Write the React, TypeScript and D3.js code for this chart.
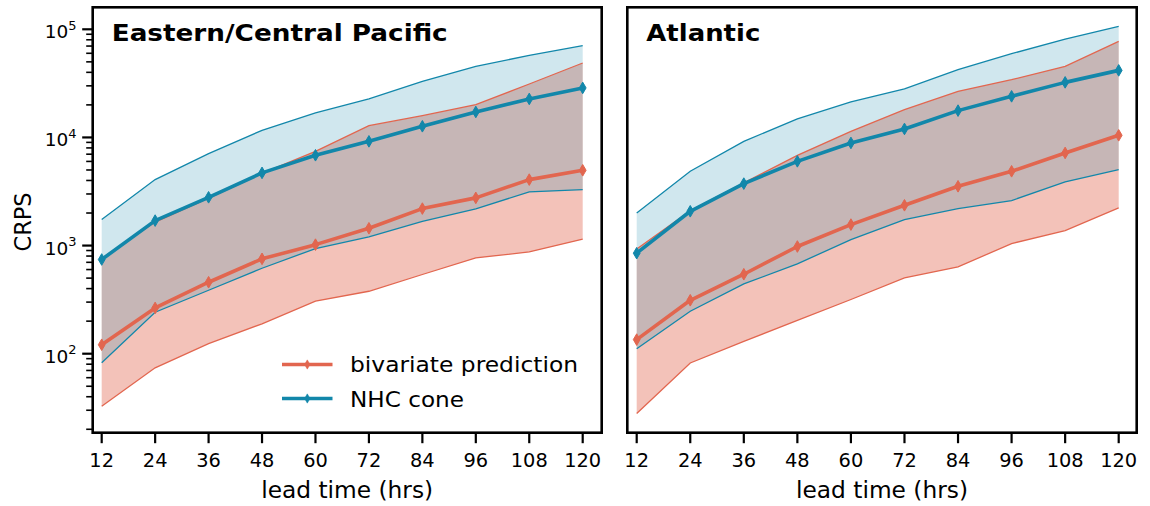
import React from "react";
import * as d3 from "d3";

const hours = [12, 24, 36, 48, 60, 72, 84, 96, 108, 120];
const hourLabels = ["12", "24", "36", "48", "60", "72", "84", "96", "108", "120"];

// Eastern/Central Pacific
const pacBivMean = [121, 265, 458, 754, 1020, 1445, 2198, 2760, 4074, 4966];
const pacBivLow = [32.7, 74, 124, 189, 306, 378, 540, 769, 874, 1145];
const pacBivHigh = [760, 1650, 2750, 4650, 7440, 12850, 15900, 20100, 31200, 48800];
const pacNhcMean = [743, 1702, 2794, 4700, 6840, 9200, 12680, 17200, 22700, 28700];
const pacNhcLow = [82.4, 242, 386, 617, 938, 1204, 1678, 2183, 3133, 3294];
const pacNhcHigh = [1740, 4074, 7080, 11640, 16830, 22700, 33000, 45400, 57400, 70500];

// Atlantic
const atlBivMean = [135, 312, 543, 980, 1563, 2357, 3532, 4862, 7190, 10460];
const atlBivLow = [28, 82, 130, 203, 317, 503, 635, 1043, 1376, 2230];
const atlBivHigh = [930, 2100, 3800, 6830, 11390, 18070, 26700, 34200, 45400, 77300];
const atlNhcMean = [850, 2075, 3741, 6012, 8892, 11980, 17700, 23990, 32300, 41700];
const atlNhcLow = [111, 247, 442, 677, 1136, 1740, 2198, 2606, 3877, 5040];
const atlNhcHigh = [2005, 4862, 9200, 14830, 21280, 28060, 42350, 59500, 81300, 106400];

const yMajor = [100, 1000, 10000, 100000];
const yMajorExp = ["2", "3", "4", "5"];

const RED = "#e2664f";
const BLUE = "#1287aa";
const FONT = "'DejaVu Sans', sans-serif";

const PLOT_TOP = 7.3;
const PLOT_BOTTOM = 432.7;

const yScale = d3.scaleLog().domain([100, 100000]).range([353.7, 29.3]);
const yDomainLow = yScale.invert(PLOT_BOTTOM);
const yDomainHigh = yScale.invert(PLOT_TOP);

function minorTicks(): number[] {
  const out: number[] = [];
  for (let e = 1; e <= 5; e++) {
    for (let m = 2; m <= 9; m++) {
      const v = m * Math.pow(10, e);
      if (v >= yDomainLow && v <= yDomainHigh) out.push(v);
    }
  }
  return out;
}

type PanelProps = {
  title: string;
  titleWidth: number;
  left: number;
  right: number;
  x12: number;
  x120: number;
  bivMean: number[];
  bivLow: number[];
  bivHigh: number[];
  nhcMean: number[];
  nhcLow: number[];
  nhcHigh: number[];
  showY: boolean;
  showLegend: boolean;
};

function diamond(cx: number, cy: number, s = 1) {
  const h = 5.8 * s;
  const w = 3.4 * s;
  return `M${cx},${cy - h}L${cx + w},${cy}L${cx},${cy + h}L${cx - w},${cy}Z`;
}

function Panel(p: PanelProps) {
  const x = d3.scaleLinear().domain([12, 120]).range([p.x12, p.x120]);
  const pts = (arr: number[]) => arr.map((v, i) => [x(hours[i]), yScale(v)] as [number, number]);
  const line = d3.line<[number, number]>();
  const area = (lo: number[], hi: number[]) =>
    d3
      .area<number>()
      .x((_, i) => x(hours[i]))
      .y0((_, i) => yScale(lo[i]))
      .y1((_, i) => yScale(hi[i]))(lo) as string;

  const mid = (p.left + p.right) / 2;
  return (
    <g>
      <path d={area(p.bivLow, p.bivHigh)} fill={RED} fillOpacity={0.4} />
      <path d={area(p.nhcLow, p.nhcHigh)} fill={BLUE} fillOpacity={0.2} />
      <path d={line(pts(p.bivLow)) as string} fill="none" stroke={RED} strokeWidth={1.3} />
      <path d={line(pts(p.bivHigh)) as string} fill="none" stroke={RED} strokeWidth={1.3} />
      <path d={line(pts(p.nhcLow)) as string} fill="none" stroke={BLUE} strokeWidth={1.3} />
      <path d={line(pts(p.nhcHigh)) as string} fill="none" stroke={BLUE} strokeWidth={1.3} />
      <path d={line(pts(p.bivMean)) as string} fill="none" stroke={RED} strokeWidth={3.6} strokeLinejoin="round" />
      {pts(p.bivMean).map(([cx, cy], i) => (
        <path key={"bm" + i} d={diamond(cx, cy)} fill={RED} stroke={RED} strokeWidth={1} />
      ))}
      <path d={line(pts(p.nhcMean)) as string} fill="none" stroke={BLUE} strokeWidth={3.6} strokeLinejoin="round" />
      {pts(p.nhcMean).map(([cx, cy], i) => (
        <path key={"nm" + i} d={diamond(cx, cy)} fill={BLUE} stroke={BLUE} strokeWidth={1} />
      ))}

      {/* frame */}
      <rect
        x={p.left}
        y={PLOT_TOP}
        width={p.right - p.left}
        height={PLOT_BOTTOM - PLOT_TOP}
        fill="none"
        stroke="#000"
        strokeWidth={2.6}
      />

      {/* x ticks */}
      {hours.map((h, i) => (
        <g key={"xt" + h}>
          <line x1={x(h)} x2={x(h)} y1={PLOT_BOTTOM} y2={PLOT_BOTTOM + 10.5} stroke="#000" strokeWidth={2.2} />
          <text x={x(h)} y={467.3} textAnchor="middle" fontFamily={FONT} fontSize={19.4} fill="#000">
            {hourLabels[i]}
          </text>
        </g>
      ))}
      <text
        x={mid}
        y={497.5}
        textAnchor="middle"
        fontFamily={FONT}
        fontSize={23}
        fill="#000"
        textLength={172}
        lengthAdjust="spacingAndGlyphs"
      >
        lead time (hrs)
      </text>

      {p.showY && (
        <g>
          {minorTicks().map((v) => (
            <line key={"ym" + v} x1={p.left - 6.5} x2={p.left} y1={yScale(v)} y2={yScale(v)} stroke="#000" strokeWidth={1.6} />
          ))}
          {yMajor.map((v, i) => (
            <g key={"yM" + v}>
              <line x1={p.left - 10.5} x2={p.left} y1={yScale(v)} y2={yScale(v)} stroke="#000" strokeWidth={2.2} />
              <text x={76.5} y={yScale(v) + 9} textAnchor="end" fontFamily={FONT} fontSize={18.5} fill="#000">
                10
                <tspan dy={-8.6} fontSize={13}>
                  {yMajorExp[i]}
                </tspan>
              </text>
            </g>
          ))}
          <text
            transform={`translate(31,${(PLOT_TOP + PLOT_BOTTOM) / 2 + 2}) rotate(-90)`}
            textAnchor="middle"
            fontFamily={FONT}
            fontSize={23}
            fill="#000"
            textLength={59}
            lengthAdjust="spacingAndGlyphs"
          >
            CRPS
          </text>
        </g>
      )}

      <text
        x={p.left + 19}
        y={40.7}
        fontFamily={FONT}
        fontWeight="bold"
        fontSize={23.5}
        fill="#000"
        textLength={p.titleWidth}
        lengthAdjust="spacingAndGlyphs"
      >
        {p.title}
      </text>

      {p.showLegend && (
        <g>
          <line x1={282} x2={332.5} y1={364.5} y2={364.5} stroke={RED} strokeWidth={3.6} />
          <path d={diamond(307.3, 364.5, 0.8)} fill={RED} stroke={RED} strokeWidth={0.5} />
          <line x1={282} x2={332.5} y1={398.5} y2={398.5} stroke={BLUE} strokeWidth={3.6} />
          <path d={diamond(307.3, 398.5, 0.8)} fill={BLUE} stroke={BLUE} strokeWidth={0.5} />
          <text
            x={350}
            y={372.3}
            fontFamily={FONT}
            fontSize={22}
            fill="#000"
            textLength={228}
            lengthAdjust="spacingAndGlyphs"
          >
            bivariate prediction
          </text>
          <text
            x={350}
            y={406.5}
            fontFamily={FONT}
            fontSize={22}
            fill="#000"
            textLength={114}
            lengthAdjust="spacingAndGlyphs"
          >
            NHC cone
          </text>
        </g>
      )}
    </g>
  );
}

export default function App() {
  return (
    <svg
      width={1150}
      height={506}
      viewBox="0 0 1150 506"
      style={{ position: "absolute", left: 0, top: 0, background: "#fff" }}
    >
      <rect x={0} y={0} width={1150} height={506} fill="#fff" />
      <Panel
        title="Eastern/Central Pacific"
        titleWidth={336}
        left={92.7}
        right={601.7}
        x12={101.7}
        x120={582.7}
        bivMean={pacBivMean}
        bivLow={pacBivLow}
        bivHigh={pacBivHigh}
        nhcMean={pacNhcMean}
        nhcLow={pacNhcLow}
        nhcHigh={pacNhcHigh}
        showY={true}
        showLegend={true}
      />
      <Panel
        title="Atlantic"
        titleWidth={114}
        left={627.3}
        right={1136.7}
        x12={636.7}
        x120={1118.7}
        bivMean={atlBivMean}
        bivLow={atlBivLow}
        bivHigh={atlBivHigh}
        nhcMean={atlNhcMean}
        nhcLow={atlNhcLow}
        nhcHigh={atlNhcHigh}
        showY={false}
        showLegend={false}
      />
    </svg>
  );
}
